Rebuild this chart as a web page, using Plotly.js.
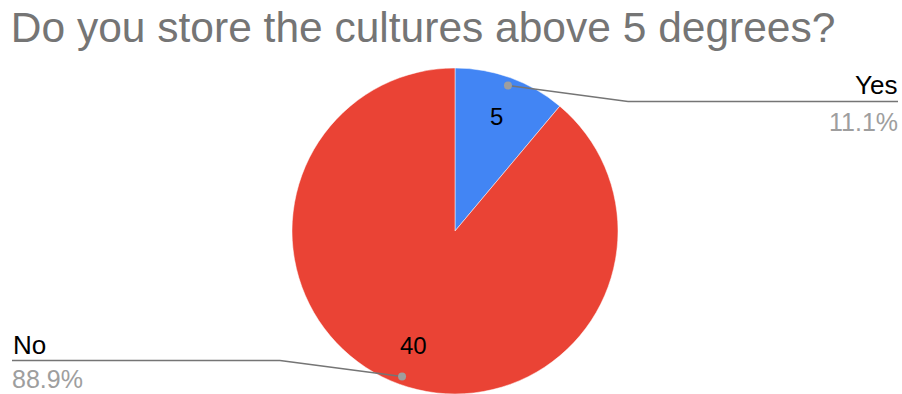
<!DOCTYPE html>
<html>
<head>
<meta charset="utf-8">
<script src="https://cdn.plot.ly/plotly-3.0.1.min.js"></script>
<style>html,body{margin:0;padding:0;background:#fff;}#chart{width:902px;height:394px;}</style>
</head>
<body>
<div id="chart"></div>
<script>
const categories = ["Yes", "No"];
const values = [5, 40];
const colors = ["#4285F4", "#EA4335"];
const titleText = "Do you store the cultures above 5 degrees?";

const W = 902, H = 394;
const cx = 455, cy = 231, r = 163;
const total = values.reduce((a, b) => a + b, 0);
const FONT = "Arial, 'Liberation Sans', sans-serif";

const shapes = [];
const annotations = [];
const px = x => x / W;
const py = y => 1 - y / H;

let start = 0;
values.forEach((v, i) => {
  const frac = v / total;
  const mid = (start + frac / 2) * 2 * Math.PI;
  start += frac;
  const sx = Math.sin(mid), sy = -Math.cos(mid);
  // inside value label
  annotations.push({
    xref: "paper", yref: "paper", x: px(cx + 0.75 * r * sx), y: py(cy + 0.75 * r * sy),
    text: String(v), showarrow: false, xanchor: "center", yanchor: "middle",
    font: {family: FONT, size: 24, color: "#000"}
  });
  // leader
  const dx = cx + 0.95 * r * sx, dy = cy + 0.95 * r * sy;
  const right = sx >= 0;
  const ey = dy + (right ? 16 : -16);
  const ex = right ? 628 : 280;
  const endx = right ? 898 : 12;
  shapes.push({type: "line", xref: "paper", yref: "paper", x0: px(dx), y0: py(dy), x1: px(ex), y1: py(ey),
    line: {color: "#757575", width: 1.5}});
  shapes.push({type: "line", xref: "paper", yref: "paper", x0: px(ex), y0: py(ey), x1: px(endx), y1: py(ey),
    line: {color: "#757575", width: 1.5}});
  shapes.push({type: "circle", xref: "paper", yref: "paper", x0: px(dx - 4), y0: py(dy - 4), x1: px(dx + 4), y1: py(dy + 4),
    fillcolor: "#9e9e9e", line: {width: 0}});
  annotations.push({
    xref: "paper", yref: "paper", x: px(endx + (right ? 1 : -1)), y: py(ey - 16),
    text: categories[i], showarrow: false, xanchor: right ? "right" : "left", yanchor: "middle",
    font: {family: FONT, size: 26, color: "#000"}
  });
  const pctY = ey + 21;
  const fitsBelow = pctY + 16 <= H;
  annotations.push({
    xref: "paper", yref: "paper", x: px(endx + (right ? 1 : -1)), y: fitsBelow ? py(pctY) : 0,
    text: (frac * 100).toFixed(1) + "%", showarrow: false, xanchor: right ? "right" : "left",
    yanchor: fitsBelow ? "middle" : "bottom", borderpad: 0,
    font: {family: FONT, size: 25, color: "#9e9e9e"}
  });
});

const data = [{
  type: "pie",
  labels: categories,
  values: values,
  marker: {colors: colors, line: {color: "#ffffff", width: 0.5}},
  sort: false,
  direction: "clockwise",
  rotation: 0,
  textinfo: "none",
  hoverinfo: "label+value+percent",
  showlegend: false,
  domain: {x: [px(cx - r), px(cx + r)], y: [0, py(cy - r)]}
}];

const layout = {
  width: W, height: H,
  margin: {l: 0, r: 0, t: 0, b: 0},
  paper_bgcolor: "#ffffff",
  title: {text: titleText, x: 0.012, xanchor: "left", y: 0.97, yanchor: "top",
    font: {family: FONT, size: 42.5, color: "#757575"}},
  showlegend: false,
  shapes: shapes,
  annotations: annotations
};

Plotly.newPlot("chart", data, layout, {displayModeBar: false, staticPlot: true});
</script>
</body>
</html>
